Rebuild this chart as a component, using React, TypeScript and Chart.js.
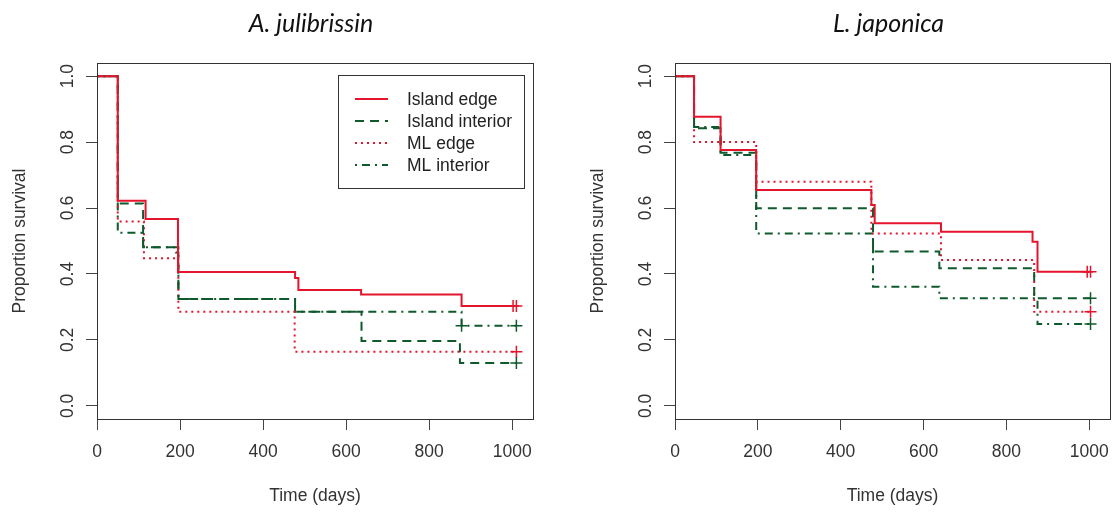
import React, { useEffect, useRef } from "react";
import { Chart, registerables } from "chart.js";

Chart.register(...registerables);

// Axis ticks shared by both panels
const xTicks = [0, 200, 400, 600, 800, 1000];
const yTicks = [0, 0.2, 0.4, 0.6, 0.8, 1.0];
const seriesNames = ["Island edge", "Island interior", "ML edge", "ML interior"];

// A. julibrissin — Kaplan–Meier steps (time in days, survival after the step)
const ajIslandEdgeTime = [0, 50, 117, 195, 477, 485, 636, 878, 1010];
const ajIslandEdgeSurv = [1.0, 0.622, 0.567, 0.406, 0.388, 0.351, 0.338, 0.303, 0.303];
const ajIslandEdgeCensor = [1002, 1010];

const ajIslandIntTime = [0, 50, 111, 190, 196, 477, 637, 874, 1010];
const ajIslandIntSurv = [1.0, 0.614, 0.481, 0.465, 0.324, 0.285, 0.197, 0.13, 0.13];
const ajIslandIntCensor = [1010];

const ajMLEdgeTime = [0, 50, 113, 196, 476, 1010];
const ajMLEdgeSurv = [1.0, 0.559, 0.448, 0.285, 0.164, 0.164];
const ajMLEdgeCensor = [1010];

const ajMLIntTime = [0, 50, 111, 196, 477, 878, 1010];
const ajMLIntSurv = [1.0, 0.525, 0.481, 0.324, 0.285, 0.243, 0.243];
const ajMLIntCensor = [878, 1010];

// L. japonica
const ljIslandEdgeTime = [0, 46, 110, 196, 474, 482, 642, 863, 875, 1003];
const ljIslandEdgeSurv = [1.0, 0.877, 0.776, 0.655, 0.609, 0.554, 0.528, 0.498, 0.407, 0.407];
const ljIslandEdgeCensor = [995, 1003];

const ljIslandIntTime = [0, 46, 110, 196, 478, 638, 867, 1003];
const ljIslandIntSurv = [1.0, 0.842, 0.768, 0.599, 0.468, 0.417, 0.326, 0.326];
const ljIslandIntCensor = [1003];

const ljMLEdgeTime = [0, 46, 196, 474, 642, 867, 1003];
const ljMLEdgeSurv = [1.0, 0.8, 0.68, 0.523, 0.442, 0.285, 0.285];
const ljMLEdgeCensor = [1003];

const ljMLIntTime = [0, 46, 110, 196, 478, 638, 875, 1003];
const ljMLIntSurv = [1.0, 0.846, 0.761, 0.523, 0.361, 0.326, 0.248, 0.248];
const ljMLIntCensor = [1003];

const RED = "#e3142c";
const GREEN = "#0f5a2c";
const FONT = '"Liberation Sans", Arial, sans-serif';

const seriesStyles = [
  { color: RED, dash: [] as number[] },
  { color: GREEN, dash: [9, 6] },
  { color: RED, dash: [2, 4] },
  { color: GREEN, dash: [2, 5, 8, 5] },
];

type Series = { time: number[]; surv: number[]; censor: number[] };

const ajSeries: Series[] = [
  { time: ajIslandEdgeTime, surv: ajIslandEdgeSurv, censor: ajIslandEdgeCensor },
  { time: ajIslandIntTime, surv: ajIslandIntSurv, censor: ajIslandIntCensor },
  { time: ajMLEdgeTime, surv: ajMLEdgeSurv, censor: ajMLEdgeCensor },
  { time: ajMLIntTime, surv: ajMLIntSurv, censor: ajMLIntCensor },
];

const ljSeries: Series[] = [
  { time: ljIslandEdgeTime, surv: ljIslandEdgeSurv, censor: ljIslandEdgeCensor },
  { time: ljIslandIntTime, surv: ljIslandIntSurv, censor: ljIslandIntCensor },
  { time: ljMLEdgeTime, surv: ljMLEdgeSurv, censor: ljMLEdgeCensor },
  { time: ljMLIntTime, surv: ljMLIntSurv, censor: ljMLIntCensor },
];

function survivalAt(s: Series, t: number): number {
  let v = s.surv[0];
  for (let i = 0; i < s.time.length; i++) {
    if (s.time[i] <= t) v = s.surv[i];
  }
  return v;
}

// Box, titles, rotated y labels and the optional legend
const decorPlugin = {
  id: "kmDecor",
  afterDraw(chart: any, _args: any, opts: any) {
    const { ctx, chartArea: a } = chart;
    const yScale = chart.scales.y;
    ctx.save();

    ctx.strokeStyle = "#333";
    ctx.lineWidth = 1;
    ctx.setLineDash([]);
    ctx.strokeRect(Math.round(a.left) + 0.5, Math.round(a.top) + 0.5, Math.round(a.right - a.left), Math.round(a.bottom - a.top));

    const cx = (a.left + a.right) / 2;

    ctx.fillStyle = "#111";
    ctx.font = 'italic 25px Lato, "Open Sans", sans-serif';
    ctx.textAlign = "center";
    ctx.textBaseline = "middle";
    ctx.fillText(opts.title, cx - 4, 24);

    ctx.fillStyle = "#333";
    ctx.font = `17.5px ${FONT}`;
    ctx.fillText("Time (days)", cx, 496);

    for (const v of yTicks) {
      const py = yScale.getPixelForValue(v);
      ctx.save();
      ctx.translate(a.left - 29, py);
      ctx.rotate(-Math.PI / 2);
      ctx.fillText(v.toFixed(1), 0, 0);
      ctx.restore();
    }

    ctx.save();
    ctx.translate(a.left - 77, (a.top + a.bottom) / 2);
    ctx.rotate(-Math.PI / 2);
    ctx.fillText("Proportion survival", 0, 0);
    ctx.restore();

    if (opts.legend) {
      const bw = 186;
      const bh = 113;
      const bx = Math.round(a.right - 9 - bw);
      const by = Math.round(a.top + 12);
      ctx.strokeStyle = "#333";
      ctx.lineWidth = 1;
      ctx.strokeRect(bx + 0.5, by + 0.5, bw, bh);
      ctx.textAlign = "left";
      ctx.font = `17.5px ${FONT}`;
      seriesNames.forEach((name, i) => {
        const ry = by + 24 + i * 22;
        const st = seriesStyles[i];
        ctx.strokeStyle = st.color;
        ctx.lineWidth = 2;
        ctx.setLineDash(st.dash);
        ctx.beginPath();
        ctx.moveTo(bx + 17, ry);
        ctx.lineTo(bx + 50, ry);
        ctx.stroke();
        ctx.setLineDash([]);
        ctx.fillStyle = "#222";
        ctx.fillText(name, bx + 69, ry + 1);
      });
    }
    ctx.restore();
  },
};

type PanelProps = {
  title: string;
  series: Series[];
  legend: boolean;
  left: number;
  yWidth: number;
  padRight: number;
};

function Panel({ title, series, legend, left, yWidth, padRight }: PanelProps) {
  const ref = useRef<HTMLCanvasElement | null>(null);

  useEffect(() => {
    if (!ref.current) return;
    const datasets: any[] = [];
    series.forEach((s, i) => {
      const st = seriesStyles[i];
      datasets.push({
        label: seriesNames[i],
        data: s.time.map((t, k) => ({ x: t, y: s.surv[k] })),
        showLine: true,
        stepped: "before",
        borderColor: st.color,
        borderWidth: 2,
        borderDash: st.dash,
        pointRadius: 0,
        fill: false,
      });
    });
    series.forEach((s, i) => {
      const st = seriesStyles[i];
      datasets.push({
        label: seriesNames[i] + " censored",
        data: s.censor.map((t) => ({ x: t, y: survivalAt(s, t) })),
        showLine: false,
        pointStyle: "cross",
        pointRadius: 6,
        pointBorderWidth: 1.5,
        borderColor: st.color,
        backgroundColor: st.color,
      });
    });

    const chart = new Chart(ref.current, {
      type: "scatter",
      data: { datasets },
      plugins: [decorPlugin],
      options: {
        animation: false,
        responsive: false,
        events: [],
        layout: { autoPadding: false, padding: { left: 0, top: 63, right: padRight, bottom: 0 } },
        plugins: {
          legend: { display: false },
          tooltip: { enabled: false },
          kmDecor: { title, legend },
        } as any,
        scales: {
          x: {
            type: "linear",
            min: 0,
            max: 1050,
            afterBuildTicks: (sc: any) => {
              sc.ticks = xTicks.map((v) => ({ value: v }));
            },
            afterFit: (sc: any) => {
              sc.height = 96;
              sc.paddingLeft = 0;
              sc.paddingRight = 0;
            },
            border: { display: false },
            grid: { drawOnChartArea: false, drawTicks: true, tickLength: 11, color: "#444", lineWidth: 1 },
            ticks: {
              color: "#333",
              font: { family: FONT, size: 17.5 },
              padding: 12,
              maxRotation: 0,
              minRotation: 0,
              callback: (v: any) => String(v),
            },
          },
          y: {
            type: "linear",
            min: -0.04,
            max: 1.04,
            afterBuildTicks: (sc: any) => {
              sc.ticks = yTicks.map((v) => ({ value: v }));
            },
            afterFit: (sc: any) => {
              sc.width = yWidth;
            },
            border: { display: false },
            grid: { drawOnChartArea: false, drawTicks: true, tickLength: 11, color: "#444", lineWidth: 1 },
            ticks: { display: false },
          },
        },
      } as any,
    });
    return () => chart.destroy();
  }, [title, series, legend, yWidth, padRight]);

  return (
    <canvas
      ref={ref}
      width={558}
      height={515}
      style={{ position: "absolute", left, top: 0, width: 558, height: 515 }}
    />
  );
}

export default function App() {
  return (
    <div style={{ position: "absolute", left: 0, top: 0, width: 1116, height: 515, background: "#fff" }}>
      <Panel title="A. julibrissin" series={ajSeries} legend={true} left={0} yWidth={97} padRight={25} />
      <Panel title="L. japonica" series={ljSeries} legend={false} left={558} yWidth={117} padRight={6} />
    </div>
  );
}
